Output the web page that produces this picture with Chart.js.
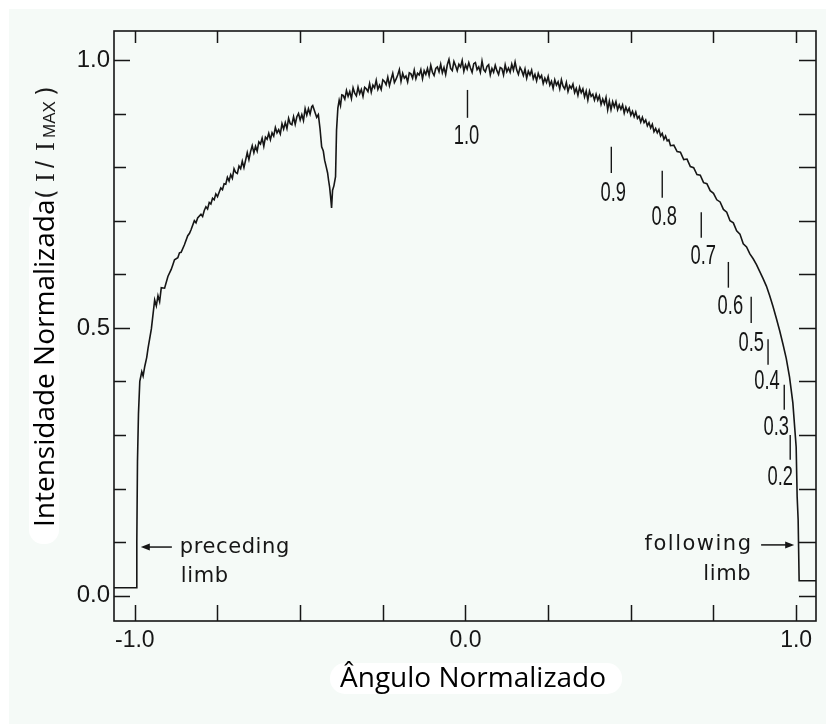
<!DOCTYPE html>
<html>
<head>
<meta charset="utf-8">
<script src="https://cdn.jsdelivr.net/npm/chart.js@4.4.1/dist/chart.umd.min.js"></script>
<style>
  html, body { margin: 0; padding: 0; background: #ffffff; }
  canvas { display: block; }
</style>
</head>
<body>
<canvas id="c" width="826" height="724"></canvas>
<script>
// ---- scan data (normalized angle, normalized intensity) ----
const angle = [
  // preceding limb
  -1.063, -0.995, -0.994, -0.992, -0.989, -0.985, -0.979, -0.975, -0.970, -0.964,
  -0.96, -0.95, -0.94, -0.935, -0.93, -0.925, -0.92, -0.91, -0.90, -0.89,
  -0.885, -0.88, -0.87, -0.865, -0.86, -0.85, -0.84, -0.835, -0.83, -0.82,
  -0.815, -0.81, -0.80, -0.795, -0.79, -0.785, -0.78, -0.775, -0.77, -0.765,
  -0.76, -0.755, -0.75, -0.745, -0.74, -0.735, -0.73, -0.725,
  -0.720, -0.715, -0.710, -0.705, -0.700, -0.695, -0.690, -0.685, -0.680, -0.675,
  -0.670, -0.665, -0.660, -0.655, -0.650, -0.645, -0.640, -0.635, -0.630, -0.625,
  -0.620, -0.615, -0.610, -0.605, -0.600, -0.595, -0.590, -0.585, -0.580, -0.575,
  -0.570, -0.565, -0.560, -0.555, -0.550, -0.545, -0.540, -0.535, -0.530, -0.525,
  -0.520, -0.515, -0.510, -0.505, -0.500, -0.495, -0.490, -0.485, -0.480, -0.475,
  -0.470, -0.465,
  // absorption dip
  -0.462, -0.455, -0.450, -0.445, -0.440, -0.435, -0.430, -0.426, -0.421, -0.417,
  -0.414, -0.411, -0.408, -0.405, -0.402, -0.398, -0.393, -0.390, -0.386, -0.382,
  -0.378, -0.374,
  // disk centre region
  -0.370, -0.365, -0.360, -0.355, -0.350, -0.345, -0.340, -0.335, -0.330, -0.325,
  -0.320, -0.315, -0.310, -0.305, -0.300, -0.295, -0.290, -0.285, -0.280, -0.275,
  -0.270, -0.265, -0.260, -0.255, -0.250, -0.245, -0.240, -0.235, -0.230, -0.225,
  -0.220, -0.215, -0.210, -0.205, -0.200, -0.195, -0.190, -0.185, -0.180, -0.175,
  -0.170, -0.165, -0.160, -0.155, -0.150, -0.145, -0.140, -0.135, -0.130, -0.125,
  -0.120, -0.115, -0.110, -0.105, -0.100, -0.095, -0.090, -0.085, -0.080, -0.075,
  -0.070, -0.065, -0.060, -0.055, -0.050, -0.045, -0.040, -0.035, -0.030, -0.025,
  -0.020, -0.015, -0.010, -0.005, 0.000, 0.005, 0.010, 0.015, 0.020, 0.025,
  0.030, 0.035, 0.040, 0.045, 0.050, 0.055, 0.060, 0.065, 0.070, 0.075,
  0.080, 0.085, 0.090, 0.095, 0.100, 0.105, 0.110, 0.115, 0.120, 0.125,
  0.130, 0.135, 0.140, 0.145, 0.150, 0.155, 0.160, 0.165, 0.170, 0.175,
  0.180, 0.185, 0.190, 0.195, 0.200, 0.205, 0.210, 0.215, 0.220, 0.225,
  0.230, 0.235, 0.240, 0.245, 0.250, 0.255, 0.260, 0.265, 0.270, 0.275,
  0.280, 0.285, 0.290, 0.295, 0.300, 0.305, 0.310, 0.315, 0.320, 0.325,
  0.330, 0.335, 0.340, 0.345, 0.350, 0.355, 0.360, 0.365, 0.370, 0.375,
  0.380, 0.385, 0.390, 0.395, 0.400, 0.405, 0.410, 0.415, 0.420, 0.425,
  0.430, 0.435, 0.440, 0.445, 0.450, 0.455, 0.460, 0.465, 0.470, 0.475,
  0.480, 0.485, 0.490, 0.495, 0.500, 0.505, 0.510, 0.515, 0.520, 0.525,
  0.530, 0.535, 0.540, 0.545, 0.550, 0.555, 0.560, 0.565, 0.570, 0.575,
  0.580, 0.585, 0.590, 0.595, 0.600, 0.605, 0.610, 0.615, 0.620,
  // towards the following limb
  0.63, 0.64, 0.65, 0.66, 0.67, 0.68, 0.69, 0.70, 0.71, 0.72,
  0.73, 0.74, 0.75, 0.76, 0.77, 0.78, 0.79, 0.80, 0.81, 0.82,
  0.83, 0.84, 0.85, 0.86, 0.87, 0.88,
  0.89, 0.90, 0.91, 0.92, 0.93, 0.94, 0.95, 0.96, 0.97, 0.98,
  0.99, 1.000, 1.003, 1.006, 1.009, 1.06
];
const intensity = [
  // preceding limb
  0.015, 0.015, 0.100, 0.250, 0.340, 0.400, 0.418, 0.410, 0.428, 0.445,
  0.462, 0.498, 0.552, 0.541, 0.560, 0.549, 0.575, 0.574, 0.596, 0.609,
  0.618, 0.627, 0.631, 0.640, 0.641, 0.655, 0.672, 0.676, 0.683, 0.700,
  0.696, 0.705, 0.712, 0.708, 0.719, 0.726, 0.722, 0.734, 0.731, 0.742,
  0.739, 0.750, 0.745, 0.753, 0.761, 0.758, 0.769, 0.768,
  0.781, 0.774, 0.786, 0.779, 0.797, 0.790, 0.788, 0.802, 0.797, 0.811,
  0.799, 0.813, 0.827, 0.814, 0.829, 0.840, 0.827, 0.839, 0.830, 0.847,
  0.843, 0.854, 0.839, 0.856, 0.852, 0.863, 0.851, 0.864, 0.858, 0.874,
  0.864, 0.870, 0.862, 0.881, 0.871, 0.883, 0.872, 0.891, 0.881, 0.879,
  0.894, 0.880, 0.894, 0.900, 0.888, 0.898, 0.887, 0.909, 0.897, 0.909,
  0.899, 0.913,
  // absorption dip
  0.915, 0.902, 0.893, 0.898, 0.872, 0.838, 0.830, 0.813, 0.800, 0.789,
  0.775, 0.763, 0.745, 0.724, 0.757, 0.765, 0.782, 0.869, 0.910, 0.925,
  0.915, 0.935,
  // disk centre region
  0.934, 0.927, 0.943, 0.932, 0.941, 0.928, 0.948, 0.938, 0.933, 0.949,
  0.937, 0.945, 0.932, 0.949, 0.946, 0.941, 0.956, 0.940, 0.953, 0.948,
  0.962, 0.945, 0.953, 0.945, 0.963, 0.960, 0.954, 0.968, 0.952, 0.964,
  0.975, 0.958, 0.964, 0.972, 0.982, 0.960, 0.975, 0.966, 0.970, 0.959,
  0.976, 0.974, 0.966, 0.981, 0.965, 0.975, 0.972, 0.982, 0.965, 0.980,
  0.973, 0.984, 0.971, 0.990, 0.977, 0.971, 0.984, 0.987, 0.978, 0.992,
  0.976, 0.986, 0.973, 0.991, 1.001, 0.984, 0.980, 0.997, 0.989, 0.980,
  0.992, 0.987, 0.999, 0.979, 0.991, 0.983, 0.995, 0.985, 0.977, 0.993,
  0.995, 0.982, 0.987, 0.977, 0.998, 0.982, 0.978, 0.988, 0.991, 0.972,
  0.984, 0.977, 0.990, 0.980, 0.973, 0.986, 0.984, 0.972, 0.991, 0.978,
  0.985, 0.977, 0.992, 0.981, 0.996, 0.981, 0.973, 0.986, 0.980, 0.971,
  0.983, 0.966, 0.979, 0.972, 0.981, 0.965, 0.973, 0.961, 0.975, 0.966,
  0.971, 0.956, 0.966, 0.958, 0.969, 0.953, 0.960, 0.947, 0.963, 0.953,
  0.959, 0.946, 0.963, 0.951, 0.946, 0.958, 0.941, 0.952, 0.947, 0.955,
  0.939, 0.947, 0.934, 0.949, 0.939, 0.946, 0.931, 0.942, 0.925, 0.942,
  0.932, 0.936, 0.925, 0.936, 0.925, 0.933, 0.917, 0.927, 0.918, 0.930,
  0.907, 0.923, 0.907, 0.922, 0.912, 0.922, 0.907, 0.916, 0.908, 0.916,
  0.901, 0.912, 0.903, 0.910, 0.897, 0.904, 0.894, 0.903, 0.891, 0.895,
  0.884, 0.893, 0.883, 0.888, 0.877, 0.883, 0.873, 0.880, 0.866, 0.872,
  0.864, 0.870, 0.858, 0.863, 0.852, 0.858, 0.849, 0.851, 0.840,
  // towards the following limb
  0.841, 0.829, 0.828, 0.814, 0.815, 0.801, 0.799, 0.786, 0.785, 0.771,
  0.769, 0.756, 0.751, 0.739, 0.735, 0.721, 0.716, 0.700, 0.696, 0.681,
  0.675, 0.657, 0.651, 0.638, 0.629, 0.618,
  0.605, 0.592, 0.578, 0.560, 0.540, 0.518, 0.495, 0.470, 0.443, 0.408,
  0.360, 0.278, 0.185, 0.142, 0.028, 0.028
];

// axis ticks
const xTickValues = [-1, 0, 1];
const xTickLabels = ['-1.0', '0.0', '1.0'];
const yTickValues = [0, 0.5, 1];
const yTickLabels = ['0.0', '0.5', '1.0'];
const xMarkValues = [-1, -0.75, -0.5, -0.25, 0, 0.25, 0.5, 0.75, 1];
const yMarkValues = [0, 0.1, 0.2, 0.3, 0.4, 0.5, 0.6, 0.7, 0.8, 0.9, 1.0];

// annotation texts along the scan
const muLabels = ['1.0', '0.9', '0.8', '0.7', '0.6', '0.5', '0.4', '0.3', '0.2'];
// anchors in data coordinates (placement only)
const muAnchors = [
  {lx: 0.006, y1: 0.944, y2: 0.892, tx: 0.003, ty: 0.860},
  {lx: 0.441, y1: 0.838, y2: 0.789, tx: 0.447, ty: 0.754},
  {lx: 0.595, y1: 0.793, y2: 0.743, tx: 0.601, ty: 0.709},
  {lx: 0.713, y1: 0.716, y2: 0.668, tx: 0.719, ty: 0.636},
  {lx: 0.795, y1: 0.623, y2: 0.575, tx: 0.801, ty: 0.543},
  {lx: 0.864, y1: 0.558, y2: 0.509, tx: 0.864, ty: 0.474},
  {lx: 0.915, y1: 0.479, y2: 0.431, tx: 0.912, ty: 0.403},
  {lx: 0.964, y1: 0.394, y2: 0.347, tx: 0.940, ty: 0.317},
  {lx: 0.982, y1: 0.300, y2: 0.254, tx: 0.952, ty: 0.224}
];

const n = Math.min(angle.length, intensity.length);
const points = [];
for (let i = 0; i < n; i++) points.push({x: angle[i], y: intensity[i]});

const INK = '#161616';

function roundRect(c, x, y, w, h, r) {
  c.beginPath();
  c.moveTo(x + r, y);
  c.lineTo(x + w - r, y);
  c.arcTo(x + w, y, x + w, y + r, r);
  c.lineTo(x + w, y + h - r);
  c.arcTo(x + w, y + h, x + w - r, y + h, r);
  c.lineTo(x + r, y + h);
  c.arcTo(x, y + h, x, y + h - r, r);
  c.lineTo(x, y + r);
  c.arcTo(x, y, x + r, y, r);
  c.closePath();
}

function drawTitles(c) {
  c.save();
  c.font = '28px "Open Sans", "Noto Sans", sans-serif';
  const xt = 'Ângulo Normalizado';
  const xw = c.measureText(xt).width;
  c.fillStyle = '#ffffff';
  roundRect(c, 330, 663, xw + 26, 31, 15);
  c.fill();
  c.fillStyle = '#000000';
  c.textBaseline = 'alphabetic';
  c.textAlign = 'left';
  c.fillText(xt, 340, 687);
  c.restore();

  c.save();
  c.translate(54, 527);
  c.rotate(-Math.PI / 2);
  c.font = '28px "Open Sans", "Noto Sans", sans-serif';
  const yt = 'Intensidade Normalizada';
  const yw = c.measureText(yt).width;
  c.fillStyle = '#ffffff';
  roundRect(c, -17, -25, yw + 20, 30, 14);
  c.fill();
  c.fillStyle = '#000000';
  c.textBaseline = 'alphabetic';
  c.textAlign = 'left';
  c.fillText(yt, 0, 0);
  c.fillStyle = '#1a1a1a';
  c.font = '25px "DejaVu Sans", sans-serif';
  c.fillText('(', 527 - 199, 0);
  c.font = '27px "Liberation Serif", serif';
  c.fillText('I', 527 - 182, 0);
  c.font = '25px "Liberation Sans", sans-serif';
  c.fillText('/', 527 - 168, 0);
  c.font = '27px "Liberation Serif", serif';
  c.fillText('I', 527 - 151, 0);
  c.font = '17px "Liberation Sans", sans-serif';
  c.fillText('MAX', 527 - 138, 1);
  c.font = '25px "DejaVu Sans", sans-serif';
  c.fillText(')', 527 - 96, 0);
  c.restore();
}

const decor = {
  id: 'decor',
  beforeDraw(chart) {
    const c = chart.ctx;
    c.save();
    c.fillStyle = '#ffffff';
    c.fillRect(0, 0, chart.width, chart.height);
    c.fillStyle = '#f5faf7';
    c.fillRect(9, 9, chart.width - 9, chart.height - 9);
    c.restore();
  },
  afterDatasetsDraw(chart) {
    const c = chart.ctx;
    const a = chart.chartArea;
    const xs = chart.scales.x, ys = chart.scales.y;
    c.save();
    c.strokeStyle = INK;
    c.lineWidth = 1.6;
    c.strokeRect(a.left, a.top, a.right - a.left, a.bottom - a.top);
    c.lineWidth = 1.5;
    c.beginPath();
    xMarkValues.forEach(v => {
      const px = Math.round(xs.getPixelForValue(v)) + 0.5;
      c.moveTo(px, a.bottom); c.lineTo(px, a.bottom - 16);
      c.moveTo(px, a.top); c.lineTo(px, a.top + 12);
    });
    yMarkValues.forEach(v => {
      const py = Math.round(ys.getPixelForValue(v)) + 0.5;
      const major = yTickValues.some(t => Math.abs(t - v) < 1e-9);
      c.moveTo(a.left, py); c.lineTo(a.left + (major ? 16 : 12), py);
      c.moveTo(a.right, py); c.lineTo(a.right - 17, py);
    });
    c.stroke();

    c.fillStyle = INK;
    c.lineWidth = 1.4;
    muAnchors.forEach((m, i) => {
      const lx = xs.getPixelForValue(m.lx);
      c.beginPath();
      c.moveTo(lx, ys.getPixelForValue(m.y1));
      c.lineTo(lx, ys.getPixelForValue(m.y2));
      c.stroke();
      const tx = xs.getPixelForValue(m.tx), ty = ys.getPixelForValue(m.ty);
      c.save();
      c.translate(tx, ty + 9.5);
      c.scale(0.68, 1);
      c.font = '27px "Liberation Sans", Arial, sans-serif';
      c.textAlign = 'center';
      c.textBaseline = 'alphabetic';
      c.fillText(muLabels[i], 0, 0);
      c.restore();
    });

    const arrow = (x1, x2, y) => {
      const p1 = xs.getPixelForValue(x1), p2 = xs.getPixelForValue(x2), py = ys.getPixelForValue(y);
      const dir = Math.sign(p2 - p1);
      c.beginPath();
      c.moveTo(p1, py); c.lineTo(p2 - dir * 6, py);
      c.stroke();
      c.beginPath();
      c.moveTo(p2, py); c.lineTo(p2 - dir * 9, py - 3.5); c.lineTo(p2 - dir * 9, py + 3.5);
      c.closePath(); c.fill();
    };
    c.lineWidth = 1.5;
    arrow(-0.888, -0.982, 0.091);
    arrow(0.894, 0.994, 0.095);
    c.font = '21px "DejaVu Sans", sans-serif';
    c.textBaseline = 'alphabetic';
    try { c.letterSpacing = '0.6px'; } catch (e) {}
    c.textAlign = 'left';
    c.fillText('preceding', xs.getPixelForValue(-0.864), ys.getPixelForValue(0.080));
    c.fillText('limb', xs.getPixelForValue(-0.861), ys.getPixelForValue(0.026));
    try { c.letterSpacing = '1.5px'; } catch (e) {}
    c.textAlign = 'right';
    c.fillText('following', xs.getPixelForValue(0.868), ys.getPixelForValue(0.086));
    try { c.letterSpacing = '0.6px'; } catch (e) {}
    c.fillText('limb', xs.getPixelForValue(0.864), ys.getPixelForValue(0.030));
    try { c.letterSpacing = '0px'; } catch (e) {}
    c.restore();

    drawTitles(c);
  }
};

new Chart(document.getElementById('c'), {
  type: 'scatter',
  data: {
    datasets: [{
      data: points,
      showLine: true,
      borderColor: INK,
      borderWidth: 1.6,
      pointRadius: 0,
      tension: 0
    }]
  },
  options: {
    responsive: false,
    animation: false,
    devicePixelRatio: 1,
    layout: { padding: { left: 0, top: 31, right: 10, bottom: 0 } },
    plugins: { legend: { display: false }, tooltip: { enabled: false } },
    scales: {
      x: {
        type: 'linear',
        min: -1.063,
        max: 1.06,
        afterFit: s => { s.height = 103; },
        afterBuildTicks: s => { s.ticks = xTickValues.map(v => ({ value: v })); },
        ticks: {
          callback: (v, i) => xTickLabels[i],
          color: INK,
          font: { family: '"Liberation Sans", Arial, sans-serif', size: 23 },
          padding: 6,
          maxRotation: 0,
          autoSkip: false
        },
        grid: { display: false, drawTicks: false },
        border: { display: false }
      },
      y: {
        type: 'linear',
        min: -0.047,
        max: 1.054,
        afterFit: s => { s.width = 114; },
        afterBuildTicks: s => { s.ticks = yTickValues.map(v => ({ value: v })); },
        ticks: {
          callback: (v, i) => yTickLabels[i],
          color: INK,
          font: { family: '"Liberation Sans", Arial, sans-serif', size: 24 },
          padding: 4,
          autoSkip: false
        },
        grid: { display: false, drawTicks: false },
        border: { display: false }
      }
    }
  },
  plugins: [decor]
});
</script>
</body>
</html>
